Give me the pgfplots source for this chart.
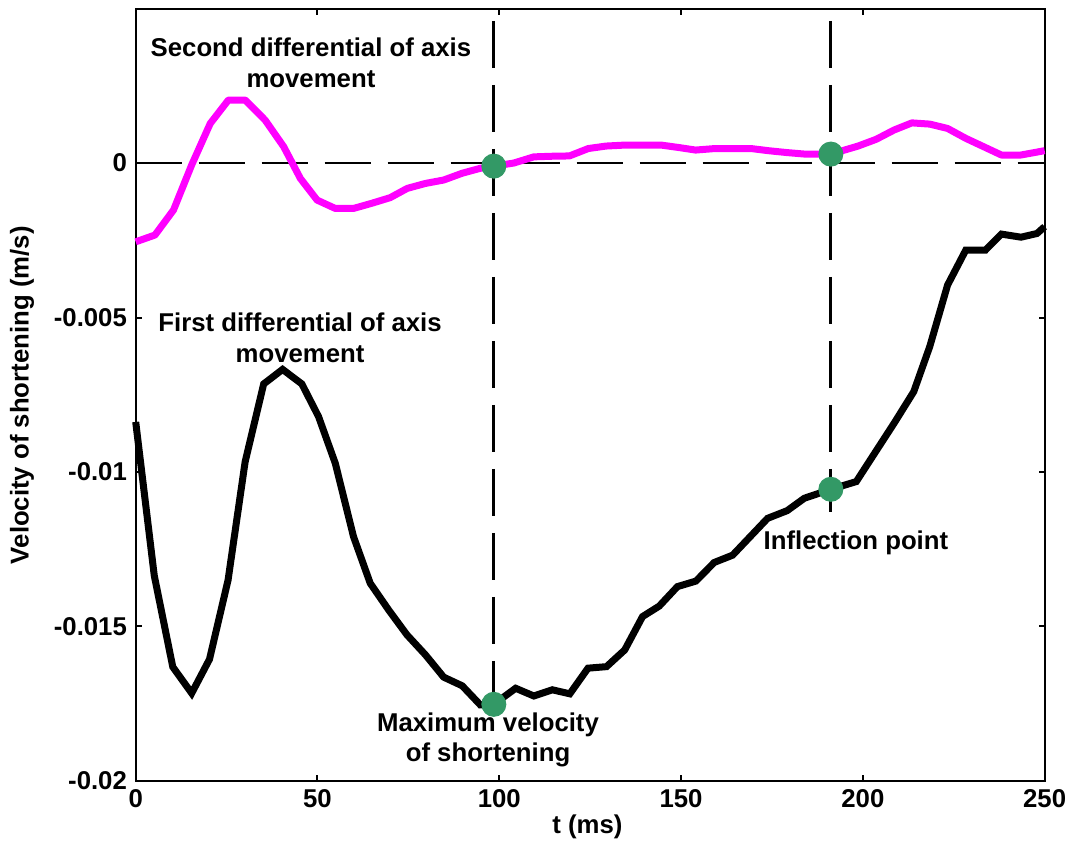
\documentclass[border=0pt]{standalone}
\usepackage{fontspec}
\setmainfont{Liberation Sans}
\usepackage{pgfplots}
\pgfplotsset{compat=1.18}

\definecolor{dotgreen}{RGB}{51,153,102}
\definecolor{curvemagenta}{RGB}{255,0,255}
\newcommand{\lblfont}{\bfseries\fontsize{10.3}{12.2}\selectfont}

\begin{document}
\begin{tikzpicture}
\begin{axis}[
  scale only axis,
  width=363.6pt, height=308.6pt,
  xmin=0, xmax=250,
  ymin=-0.02, ymax=0.00497,
  xtick={0,50,100,150,200,250},
  xticklabels={0,50,100,150,200,250},
  ytick={-0.02,-0.015,-0.01,-0.005,0},
  yticklabels={-0.02,-0.015,-0.01,-0.005,0},
  scaled y ticks=false,
  scaled x ticks=false,
  tick align=inside,
  major tick length=2.4pt,
  tick style={line width=0.8pt, black},
  axis line style={line width=0.8pt},
  tick label style={font=\lblfont},
  xlabel={t (ms)},
  ylabel={Velocity of shortening (m/s)},
  every axis x label/.style={at={(axis description cs:0.497,-0.0596)}, anchor=center, font=\lblfont},
  every axis y label/.style={at={(axis description cs:-0.125,0.5)}, rotate=90, anchor=center, font=\lblfont},
  clip=false,
]

% fixes the page extent around the axis
\path[draw=none] (axis description cs:-0.1493,-0.0778) rectangle (axis description cs:1.0367,1.0123);

% zero reference line
\addplot[black, line width=0.8pt, dash pattern=on 18.4pt off 6.8pt] coordinates {(0,0) (250,0)};

% markers of the two instants
\addplot[black, line width=1.2pt, dash pattern=on 18.8pt off 6.8pt] coordinates {(98.5,0.0046) (98.5,-0.0175)};
\addplot[black, line width=1.2pt, dash pattern=on 18.8pt off 6.8pt] coordinates {(191.2,0.0046) (191.2,-0.0113)};

% second differential of axis movement
\addplot[color=curvemagenta, line width=2.8pt, line join=round] coordinates {
(0,-0.00255) (5.3,-0.00233) (10.4,-0.00152) (15.4,-0.00006) (20.5,0.00128)
(25.5,0.00204) (30.1,0.00204) (35.6,0.00139) (40.7,0.00053) (45.3,-0.0005)
(49.9,-0.0012) (54.9,-0.00147) (59.9,-0.00147) (65,-0.0013) (70,-0.00112)
(74.7,-0.00082) (79.7,-0.00066) (84.7,-0.00055) (89.8,-0.00033) (94.8,-0.00017)
(98.5,-0.0001) (104,0.0) (109.5,0.0002) (114.5,0.00022) (119.3,0.00023)
(124.5,0.00047) (129.4,0.00055) (134.3,0.00058) (139.5,0.00058) (144.6,0.00058)
(149.5,0.0005) (154,0.00042) (159.4,0.00047) (164.3,0.00047) (169.2,0.00047)
(174,0.0004) (179,0.00034) (184,0.00029) (191.2,0.00029) (198.7,0.00055)
(203.7,0.00077) (208.6,0.00107) (213.5,0.0013) (218.4,0.00126) (223.3,0.00112)
(228.3,0.0008) (233.2,0.00053) (238.1,0.00026) (243.5,0.00026) (250,0.0004)
};

% first differential of axis movement
\addplot[black, line width=2.8pt, line join=miter] coordinates {
(0,-0.00838) (5.1,-0.01335) (10.2,-0.01631) (15.4,-0.01716) (20.3,-0.01606)
(25.4,-0.0135) (30.1,-0.00967) (35.2,-0.00715) (40.4,-0.00668) (45.7,-0.00715)
(50.3,-0.00821) (54.9,-0.00972) (59.9,-0.01209) (64.5,-0.0136) (69.6,-0.01447)
(74.6,-0.01527) (79.7,-0.01592) (84.7,-0.01664) (89.8,-0.01692) (94.8,-0.01754)
(98.5,-0.01752) (104.5,-0.0170) (109.5,-0.01725) (114.6,-0.01705) (119.4,-0.01718)
(124.4,-0.01635) (129.5,-0.0163) (134.5,-0.01576) (139.4,-0.01468) (144,-0.01434)
(149,-0.01371) (154.1,-0.01353) (159.1,-0.01293) (164.2,-0.01269) (173.8,-0.0115)
(179.2,-0.01125) (183.9,-0.01085) (191.2,-0.01056) (198.2,-0.01031) (203.2,-0.0094)
(208.6,-0.00842) (214,-0.0074) (218.4,-0.00594) (223.3,-0.00395) (228.3,-0.00282)
(233.7,-0.00282) (238.1,-0.0023) (243.5,-0.0024) (247.9,-0.00228) (250,-0.00206)
};

% characteristic points
\addplot[only marks, mark=*, mark size=4.8pt, color=dotgreen] coordinates {
(98.5,-0.0001) (98.5,-0.01752) (191.2,0.00029) (191.2,-0.01056)
};

\node[font=\lblfont, align=center] at (axis cs:48.2,0.00324) {Second differential of axis\\movement};
\node[font=\lblfont, align=center] at (axis cs:45.2,-0.00566) {First differential of axis\\movement};
\node[font=\lblfont, align=center] at (axis cs:96.9,-0.01867) {Maximum velocity\\of shortening};
\node[font=\lblfont, align=center] at (axis cs:198.1,-0.0123) {Inflection point};

\end{axis}
\end{tikzpicture}
\end{document}
